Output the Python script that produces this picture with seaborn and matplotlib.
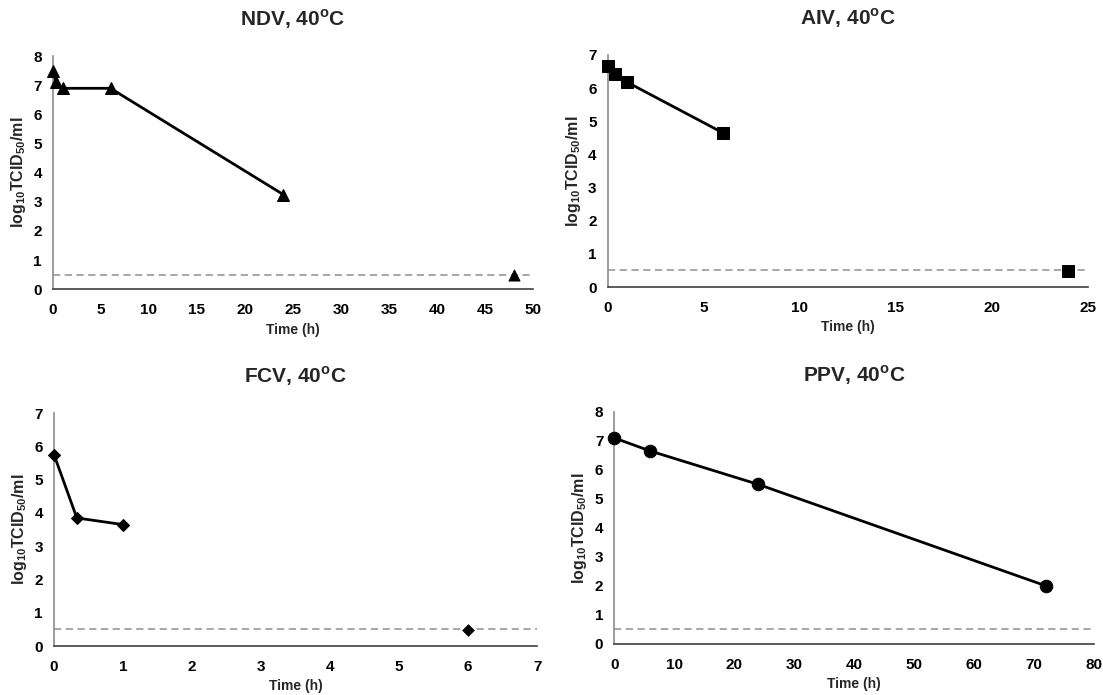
import numpy as np
import pandas as pd
import seaborn as sns
from matplotlib import pyplot as plt

# Dados
ndv_t = [0, 0.33, 1, 6, 24]
ndv_v = [7.5, 7.1, 6.9, 6.9, 3.25]
ndv_lim_t = [48]
ndv_lim_v = [0.5]

aiv_t = [0, 0.36, 1, 6]
aiv_v = [6.67, 6.42, 6.18, 4.65]
aiv_lim_t = [24]
aiv_lim_v = [0.48]

fcv_t = [0, 0.33, 1]
fcv_v = [5.75, 3.85, 3.65]
fcv_lim_t = [6]
fcv_lim_v = [0.48]

ppv_t = [0, 6, 24, 72]
ppv_v = [7.1, 6.65, 5.5, 2.0]
ppv_lim_t = []
ppv_lim_v = []

limite = 0.5

sns.set_style("white")
plt.rcParams['font.family'] = ['Liberation Sans', 'DejaVu Sans']
plt.rcParams['font.weight'] = 'bold'
plt.rcParams['mathtext.fontset'] = 'custom'
plt.rcParams['mathtext.rm'] = 'Liberation Sans'
plt.rcParams['mathtext.bf'] = 'Liberation Sans:bold'

fig = plt.figure(figsize=(11.03, 6.95), dpi=100)

paineis = [
    ("NDV", ndv_t, ndv_v, ndv_lim_t, ndv_lim_v, "^", 8, [0.048, 0.584, 0.435, 0.335], 50, 5, 8),
    ("AIV", aiv_t, aiv_v, aiv_lim_t, aiv_lim_v, "s", 9, [0.551, 0.587, 0.435, 0.334], 25, 5, 7),
    ("FCV", fcv_t, fcv_v, fcv_lim_t, fcv_lim_v, "D", 6, [0.049, 0.0705, 0.438, 0.335], 7, 1, 7),
    ("PPV", ppv_t, ppv_v, ppv_lim_t, ppv_lim_v, "o", 9, [0.557, 0.0734, 0.435, 0.334], 80, 10, 8),
]

for nome, t, v, lt, lv, marcador, tam, pos, xmax, xpasso, ymax in paineis:
    ax = fig.add_axes(pos)

    # Linha de limite de detecção
    ax.axhline(limite, color="#a0a0a0", linestyle=(0, (4, 2.5)), linewidth=1.3, zorder=1)

    df = pd.DataFrame({"t": t, "v": v})
    sns.lineplot(data=df, x="t", y="v", ax=ax, color="black", linewidth=2,
                 marker=marcador, markersize=tam, markeredgecolor="black", zorder=3)
    if lt:
        sns.scatterplot(x=lt, y=lv, ax=ax, color="black", marker=marcador,
                        s=tam ** 2, edgecolor="black", zorder=3)

    ax.set_xlim(0, xmax)
    ax.set_ylim(0, ymax)
    ax.set_xticks(np.arange(0, xmax + 0.01, xpasso))
    ax.set_yticks(np.arange(0, ymax + 1, 1))

    # Configurando eixos
    sns.despine(ax=ax)
    ax.spines['left'].set_color("#8c8c8c")
    ax.spines['bottom'].set_color("#404040")
    ax.spines['left'].set_linewidth(1.2)
    ax.spines['bottom'].set_linewidth(1.2)
    ax.tick_params(axis='both', direction='out', length=3, width=1, colors="#808080",
                   labelcolor="black", labelsize=11)
    ax.tick_params(axis='x', pad=7)
    ax.tick_params(axis='y', pad=5)
    for lab in ax.get_xticklabels() + ax.get_yticklabels():
        lab.set_fontweight('bold')

    ax.set_title(nome + r", 40$^{\mathbf{o}}$C", fontsize=15, fontweight='bold', pad=22)
    ax.set_xlabel("Time (h)", fontsize=10, fontweight='bold', labelpad=4)
    ax.set_ylabel(r"log$_{\mathbf{10}}$TCID$_{\mathbf{50}}$/ml", fontsize=11.5, fontweight='bold', labelpad=4)
    for coll in ax.lines + ax.collections:
        coll.set_clip_on(False)

plt.savefig("out.png", dpi=100)
plt.close()
